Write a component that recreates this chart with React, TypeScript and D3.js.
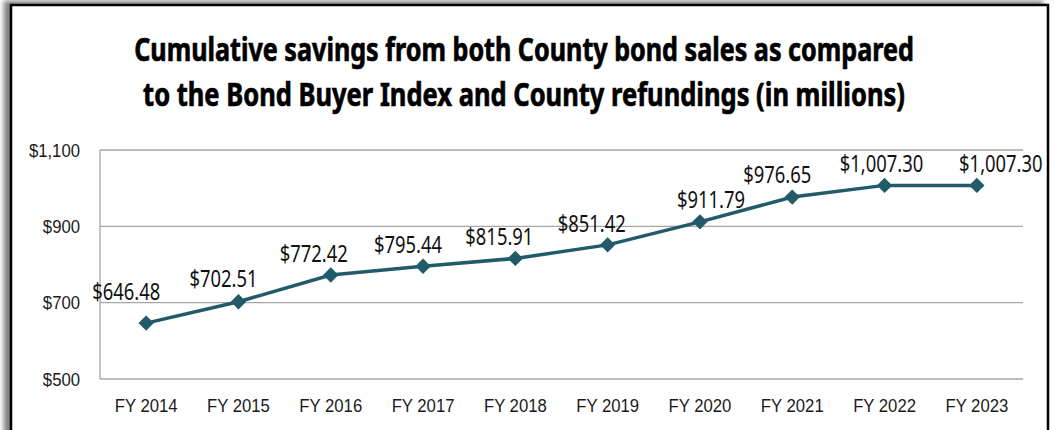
import React, { useEffect, useRef } from 'react'
import * as d3 from 'd3'

// fiscal years on the x axis
var years = ['FY 2014', 'FY 2015', 'FY 2016', 'FY 2017', 'FY 2018', 'FY 2019', 'FY 2020', 'FY 2021', 'FY 2022', 'FY 2023']

// cumulative savings, millions of dollars
var savings = [646.48, 702.51, 772.42, 795.44, 815.91, 851.42, 911.79, 976.65, 1007.30, 1007.30]

// y axis ticks
var yTicks = [500, 700, 900, 1100]

var titleLines = [
    'Cumulative savings from both County bond sales as compared',
    'to the Bond Buyer Index and County refundings (in millions)'
]

// svg size
var width = 1055
var height = 430

// plot area
var plotLeft = 100
var plotRight = 1023
var plotTop = 150
var plotBottom = 379

// little nudges for the value labels, same as the original chart (dx, dy)
var labelNudge = [[-20, -23], [-15, -15], [-17, -13], [-15, -13], [-16, -13], [-16, -13], [11, -14], [-15, -14], [-3, -13], [24, -13]]

// widths the title lines take up in the original
var titleWidths = [780, 762]

var lineColour = '#215a69'
var humanist = '"Noto Sans", "Open Sans", sans-serif'
var arial = '"Liberation Sans", Arial, sans-serif'

function App() {
    var ref = useRef(null)

    useEffect(() => {
        var svg = d3.select(ref.current)
        svg.selectAll('*').remove()

        var x = d3.scaleBand()
            .domain(years)
            .range([plotLeft, plotRight])

        var y = d3.scaleLinear()
            .domain([500, 1100])
            .range([plotBottom, plotTop])

        // shadow for the frame
        var defs = svg.append('defs')
        var filter = defs.append('filter')
            .attr('id', 'shadow')
            .attr('x', '-5%').attr('y', '-5%')
            .attr('width', '110%').attr('height', '110%')
        filter.append('feDropShadow')
            .attr('dx', -6).attr('dy', -3)
            .attr('stdDeviation', 2.5)
            .attr('flood-color', '#000')
            .attr('flood-opacity', 0.5)

        svg.append('rect')
            .attr('x', 0).attr('y', 0)
            .attr('width', width).attr('height', height)
            .attr('fill', '#fff')

        svg.append('rect')
            .attr('x', 11).attr('y', 5)
            .attr('width', 1037).attr('height', 500)
            .attr('fill', '#fff')
            .attr('stroke', '#000')
            .attr('stroke-width', 2.5)
            .attr('filter', 'url(#shadow)')

        // title, squeezed to look like a condensed face
        svg.selectAll('.title')
            .data(titleLines)
            .enter()
            .append('text')
            .attr('class', 'title')
            .attr('text-anchor', 'middle')
            .attr('font-family', humanist)
            .attr('font-weight', 'bold')
            .attr('font-size', 32)
            .attr('fill', '#000')
            .attr('stroke', '#000')
            .attr('stroke-width', 0.7)
            .text(d => d)
            .attr('transform', function (d, i) {
                var w = this.getComputedTextLength()
                return 'translate(524,' + (61 + i * 45) + ') scale(' + (titleWidths[i] / w) + ',1)'
            })

        // gridlines
        svg.selectAll('.grid')
            .data(yTicks)
            .enter()
            .append('line')
            .attr('x1', plotLeft).attr('x2', plotRight)
            .attr('y1', d => y(d)).attr('y2', d => y(d))
            .attr('stroke', '#a6a6a6')
            .attr('stroke-width', 1.3)

        svg.append('line')
            .attr('x1', plotLeft).attr('x2', plotLeft)
            .attr('y1', plotTop).attr('y2', plotBottom)
            .attr('stroke', '#a6a6a6')
            .attr('stroke-width', 1.3)

        // y labels
        svg.selectAll('.ylab')
            .data(yTicks)
            .enter()
            .append('text')
            .attr('transform', d => 'translate(80,' + y(d) + ') scale(0.88,1)')
            .attr('dy', '0.35em')
            .attr('text-anchor', 'end')
            .attr('font-family', arial)
            .attr('font-size', 19)
            .attr('fill', '#1a1a1a')
            .text(d => '$' + d3.format(',')(d))

        // x labels
        svg.selectAll('.xlab')
            .data(years)
            .enter()
            .append('text')
            .attr('transform', d => 'translate(' + (x(d) + x.bandwidth() / 2) + ',412) scale(0.88,1)')
            .attr('text-anchor', 'middle')
            .attr('font-family', arial)
            .attr('font-size', 19)
            .attr('fill', '#1a1a1a')
            .text(d => d)

        var pts = years.map((d, i) => [x(d) + x.bandwidth() / 2, y(savings[i])])

        // the line
        svg.append('path')
            .datum(pts)
            .attr('d', d3.line())
            .attr('fill', 'none')
            .attr('stroke', lineColour)
            .attr('stroke-width', 3.5)

        // diamond markers
        svg.selectAll('.marker')
            .data(pts)
            .enter()
            .append('path')
            .attr('d', d3.symbol().type(d3.symbolDiamond2).size(150))
            .attr('transform', d => 'translate(' + d[0] + ',' + d[1] + ')')
            .attr('fill', lineColour)

        // value labels
        svg.selectAll('.val')
            .data(savings)
            .enter()
            .append('text')
            .attr('transform', (d, i) => 'translate(' + (pts[i][0] + labelNudge[i][0]) + ',' + (pts[i][1] + labelNudge[i][1]) + ') scale(0.8,1)')
            .attr('text-anchor', 'middle')
            .attr('font-family', humanist)
            .attr('font-size', 23)
            .attr('fill', '#111')
            .text(d => '$' + d3.format(',.2f')(d))
    }, [])

    return (
        <div style={{ position: 'absolute', left: 0, top: 0 }}>
            <svg ref={ref} width={width} height={height} style={{ display: 'block' }}></svg>
        </div>
    )
}

export default App
